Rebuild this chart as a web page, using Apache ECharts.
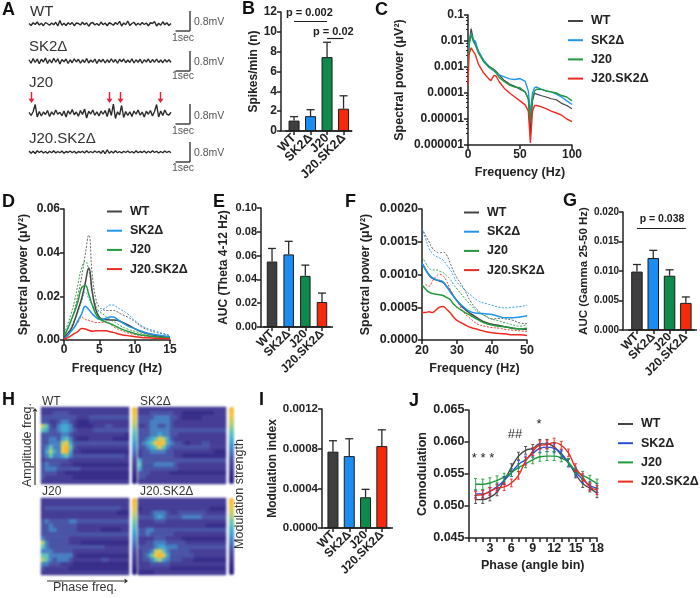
<!DOCTYPE html>
<html>
<head>
<meta charset="utf-8">
<style>
html,body{margin:0;padding:0;background:#fff}
#main{width:700px;height:598px}
/* the comodulograms are smooth in the figure, cells get softened here */
#heat{position:absolute;left:0;top:395px;width:250px;height:190px;filter:blur(1px)}
</style>
<script src="https://cdn.jsdelivr.net/npm/echarts@6/dist/echarts.min.js"></script>
</head>
<body>
<div id="main"></div>
<div id="heat"></div>
<script>
const groups = ['WT', 'SK2Δ', 'J20', 'J20.SK2Δ'];

// A: LFP traces (mV)
const traceWT = [.02,-.06,.05,-.02,.08,-.04,.03,-.07,.06,.01,-.05,.04,-.03,.07,-.08,.14,-.05,.03,-.06,.05,-.02,.06,-.07,.04,.02,-.04,.07,-.03,.05,-.09,.03,.06,-.04,.02,-.06,.08,-.03,.04,-.07,.05,.01,-.05,.06,-.02,.11,-.08,.04,-.03,.12,-.06,.02,.07,-.05,.03,-.04,.06,-.02,.04,-.07,.05,.02,.1,-.08,.03,-.05,.09,-.03,.05,-.06,.02];
const traceSK2 = [.05,-.09,.1,-.06,.08,-.11,.07,-.04,.12,-.1,.06,-.08,.11,-.05,.09,-.12,.06,-.03,.08,-.1,.05,-.07,.09,-.04,.07,-.09,.05,-.06,.1,-.08,.04,-.05,.08,-.1,.06,-.04,.07,-.08,.05,-.06,.09,-.05,.06,-.09,.07,-.03,.08,-.07,.04,-.06,.09,-.08,.05,-.05,.07,-.09,.05,-.04,.08,-.07,.06,-.05,.08,-.06,.04,-.07,.06,-.04,.05,-.06];
const traceJ20 = [.03,-.1,.05,.34,-.16,.06,-.12,.04,-.06,.1,-.14,.05,-.08,.12,-.05,.03,-.11,.08,-.16,.09,-.05,.14,-.07,.04,-.13,.1,-.06,.16,-.2,.07,-.04,.12,-.09,.05,-.12,.08,-.05,.1,-.14,.18,-.1,.36,-.22,.05,-.08,.3,-.18,.06,-.1,.05,-.14,.08,-.05,.12,-.09,.04,-.16,.07,-.05,.1,-.12,.06,.34,-.16,.08,-.1,.12,-.05,-.08,.03];
const traceDKO = [.04,-.05,.03,-.06,.05,-.02,.04,-.04,.02,-.05,.03,-.03,.05,-.04,.02,-.03,.04,-.05,.02,-.02,.04,-.03,.03,-.05,.02,-.02,.03,-.04,.05,-.03,.02,-.03,.04,-.02,.03,-.05,.06,-.07,.09,-.05,.03,-.04,.05,-.03,.02,-.04,.03,-.02,.04,-.03,.02,-.04,.05,-.03,.02,-.02,.04,-.04,.03,-.03,.05,-.02,.03,-.04,.02,-.03,.04,-.02,.03,-.03];

// B, E, G, I: bars, value and top of the error bar
const spikes = [1.05, 1.5, 7.45, 2.25];
const spikesTop = [1.45, 2.15, 8.95, 3.55];
const theta = [.055, .061, .043, .021];
const thetaTop = [.066, .072, .052, .0285];
const gamma = [.0099, .0122, .0092, .0046];
const gammaTop = [.0111, .0135, .0102, .0056];
const modIndex = [.00077, .000725, .00031, .000826];
const modIndexTop = [.00088, .0009, .00039, .00099];

// C: full spectrum
const freqC = [0,1,3,5,7,10,15,20,22,25,27,30,35,40,45,50,55,58,60,62,64,66,70,75,80,85,90,95,100];
const fullWT = [.001,.008,.03,.012,.008,.004,.0018,.0011,.00095,.0008,.00068,.0005,.0003,.00022,.00018,.00014,.00011,.00006,.000003,.00005,.0001,.00009,.00008,.00007,.00006,.000055,.00004,.000033,.000025];
const fullSK2 = [.001,.008,.02,.011,.01,.004,.0018,.001,.00085,.0007,.0006,.0005,.00042,.00035,.00033,.00036,.00028,.00012,.000015,.0001,.00016,.00017,.00014,.00012,.00011,.00009,.00007,.00005,.000036];
const fullJ20 = [.001,.007,.018,.01,.007,.0035,.0016,.001,.0009,.0008,.0006,.0004,.00027,.0002,.00017,.00016,.00011,.00006,.000008,.00006,.00012,.00014,.00014,.00012,.00011,.0001,.00008,.00007,.00005];
const fullDKO = [.0002,.003,.0055,.004,.003,.0013,.0006,.00035,.0003,.00048,.00045,.00027,.00015,.0001,.00007,.00005,.000035,.00002,.0000012,.00002,.000033,.000033,.00003,.000025,.00002,.000017,.000014,.00001,.000008];

// D: theta range, mean (solid) and upper SEM (dashed)
const freqD = [0,.5,1,1.5,2,2.5,3,3.5,4,4.5,5,5.5,6,6.5,7,7.5,8,9,10,11,12,13,14,15];
const lowWT = [.001,.003,.005,.009,.014,.019,.026,.033,.022,.014,.0105,.0095,.0093,.0092,.0092,.009,.0085,.007,.0052,.0037,.0028,.002,.0015,.0012];
const lowWTup = [.002,.005,.009,.014,.021,.029,.039,.048,.03,.019,.015,.014,.0135,.0135,.0135,.013,.012,.0105,.0085,.006,.0045,.0035,.0028,.002];
const lowSK2 = [.0005,.002,.004,.006,.009,.012,.0155,.014,.012,.0105,.0095,.0095,.01,.0105,.0105,.0095,.0085,.0065,.0052,.004,.003,.0024,.002,.0015];
const lowSK2up = [.001,.003,.006,.009,.013,.018,.022,.019,.016,.014,.013,.014,.015,.016,.016,.015,.014,.012,.009,.0065,.005,.004,.003,.002];
const lowJ20 = [.002,.005,.009,.013,.018,.024,.025,.021,.016,.012,.0098,.0088,.0082,.0075,.0068,.006,.0052,.004,.003,.0023,.0018,.0015,.0012,.001];
const lowJ20up = [.003,.007,.012,.018,.026,.033,.036,.032,.022,.016,.013,.012,.0105,.0095,.0085,.0075,.0065,.005,.004,.003,.0025,.002,.0017,.0013];
const lowDKO = [.0005,.001,.002,.003,.004,.0053,.005,.0045,.004,.0042,.0042,.0042,.0042,.0038,.0035,.003,.0025,.002,.0015,.0012,.001,.0008,.0007,.0006];
const lowDKOup = [.001,.002,.004,.006,.008,.0105,.0095,.009,.0085,.008,.008,.0082,.008,.0075,.006,.0052,.0045,.0033,.0025,.002,.0016,.0013,.001,.0008];

// F: gamma range
const freqF = [20,21,22,23,24,25,26,27,28,29,30,32,34,36,38,40,42,44,46,48,50];
const highWT = [.00117,.00108,.00099,.00094,.00092,.0009,.00088,.00082,.00075,.00067,.0006,.00048,.0004,.00033,.00027,.00024,.00022,.0002,.00018,.00017,.00016];
const highWTup = [.0017,.0016,.0015,.0014,.00135,.00133,.00134,.0013,.00118,.00105,.00095,.00078,.00058,.00045,.00037,.00032,.00033,.00032,.0003,.00026,.00025];
const highSK2 = [.00117,.00108,.001,.00095,.00092,.00091,.00089,.00082,.00074,.00067,.0006,.0005,.00043,.00041,.0004,.00039,.00036,.00034,.00034,.00035,.00037];
const highSK2up = [.0017,.00155,.0014,.00132,.00128,.00125,.00122,.00115,.00108,.00098,.00088,.00078,.00068,.0006,.00056,.00053,.0005,.00049,.0005,.00051,.00053];
const highJ20 = [.00084,.00078,.00073,.00071,.0007,.00069,.00068,.00065,.00062,.00055,.0005,.00043,.00037,.00031,.00026,.00023,.00021,.0002,.00018,.00017,.00018];
const highJ20up = [.00127,.00118,.0011,.00107,.00107,.00105,.00103,.00098,.00093,.00085,.00078,.00065,.00053,.00043,.00037,.00032,.00029,.00026,.00023,.00021,.00024];
const highDKO = [.00042,.00042,.00043,.00042,.00046,.0005,.00051,.00047,.00042,.00035,.0003,.00024,.00019,.00016,.00013,.00011,.0001,.00009,.00008,.00008,.00007];
const highDKOup = [null,.00085,.00082,.0009,.00097,.001,.00098,.0009,.00078,.00068,.0006,.00042,.00032,.00024,.00021,.00019,.00018,.00016,.00015,.00014,.00013];

// J: comodulation per angle bin
const bins = [1,2,3,4,5,6,7,8,9,10,11,12,13,14,15,16,17,18];
const comoWT = [.0510,.0510,.0514,.0522,.0540,.0560,.0578,.0587,.0590,.0597,.0597,.0592,.0580,.0568,.0550,.0535,.0528,.0520];
const comoSK2 = [.0519,.0519,.0523,.0530,.0540,.0552,.0565,.0572,.0582,.0590,.0592,.0590,.0582,.0567,.0553,.0542,.0532,.0528];
const comoJ20 = [.0534,.0534,.0536,.0540,.0545,.0552,.0560,.0566,.0572,.0577,.0578,.0578,.0575,.0568,.0555,.0548,.0542,.0535];
const comoDKO = [.0517,.0518,.0523,.0528,.0530,.0536,.0548,.0570,.0585,.0595,.0596,.0599,.0595,.0583,.0560,.0545,.0530,.0525];
const comoErr = [.0006,.0006,.0006,.0006,.0006,.0006,.0006,.0006,.0006,.0007,.0007,.0007,.0006,.0006,.0006,.0006,.0006,.0007];
const comoErrJ20 = [.0009,.0008,.0008,.0007,.0006,.0006,.0006,.0006,.0006,.0007,.0007,.0007,.0006,.0006,.0006,.0006,.0006,.0007];

// H: comodulograms, rows from high to low amplitude frequency, phase frequency along the row
const heatWT = [
 [2,2,2,2,2,2,2,2,2,2,2,2,2,2,2,2,2,2,2,2,2,2],
 [2,2,2,3,3,3,3,2,2,2,2,2,2,2,2,2,2,2,2,2,2,2],
 [3,3,3,3,3,3,3,3,3,2,2,2,3,3,3,3,3,3,3,3,3,3],
 [3,3,2,2,3,4,4,3,2,1,1,1,2,2,2,2,2,2,2,2,2,2],
 [7,6,3,2,4,5,5,4,2,1,1,1,1,2,2,2,3,3,2,2,2,2],
 [6,5,3,3,4,5,5,4,3,2,2,2,2,3,3,3,3,3,3,3,3,3],
 [3,3,3,3,3,4,4,3,2,2,2,2,2,2,2,2,2,2,2,2,2,1],
 [3,3,4,4,3,5,6,4,2,1,1,1,2,2,2,2,2,2,1,1,1,1],
 [3,3,4,4,4,7,8,5,3,3,3,3,3,3,3,3,3,3,3,3,3,3],
 [3,4,6,4,4,8,9,6,3,2,2,2,2,2,2,2,2,2,2,2,2,2],
 [3,5,7,5,4,8,9,5,2,2,1,1,1,1,1,1,1,1,1,1,1,1],
 [3,4,6,4,4,5,6,4,3,3,3,3,3,3,3,3,3,3,3,3,3,2],
 [2,3,3,3,3,3,3,2,2,2,2,2,2,2,2,2,2,2,2,2,2,2],
 [3,4,3,3,3,2,2,2,1,1,1,1,1,1,1,1,1,1,1,1,1,1],
 [3,4,4,4,3,3,3,3,3,3,2,2,2,2,2,2,2,2,2,2,2,2],
 [3,3,3,3,2,2,1,1,1,1,1,1,1,1,1,1,1,1,1,1,1,1],
 [3,2,2,2,2,2,2,2,1,1,1,1,1,1,1,1,1,1,1,1,1,1],
 [2,2,2,2,2,2,2,2,2,2,2,2,2,2,2,2,2,2,2,2,2,2]
];
const heatSK2 = [
 [2,2,2,2,2,2,2,2,2,2,2,2,2,2,2,2,2,2,2,2,2,2],
 [2,2,2,3,3,3,3,3,3,2,2,1,1,1,1,1,1,1,1,2,2,2],
 [3,3,3,3,4,4,4,4,3,3,2,1,1,1,1,1,2,2,2,2,2,2],
 [3,3,3,4,4,4,4,4,3,2,2,2,2,2,2,2,2,2,2,2,2,2],
 [2,2,3,4,4,3,3,4,3,2,2,2,2,2,2,2,2,2,2,2,2,2],
 [3,3,3,4,4,4,4,4,3,3,3,3,3,3,3,3,3,3,3,3,3,3],
 [3,3,3,4,4,5,4,4,3,3,2,2,2,2,2,2,2,2,2,2,2,2],
 [3,3,4,5,6,8,7,5,3,2,2,2,2,2,2,2,2,2,2,2,2,2],
 [3,4,5,6,8,9,8,5,4,3,3,2,1,2,2,2,3,3,2,2,2,2],
 [3,3,4,5,6,8,6,4,3,3,3,3,3,3,3,3,3,3,2,2,2,2],
 [2,3,3,4,4,4,4,3,3,2,2,2,2,2,2,2,2,2,2,1,1,1],
 [2,3,3,3,3,3,3,3,3,2,2,1,1,1,1,1,1,1,1,1,1,1],
 [5,3,3,3,3,3,3,3,3,3,3,3,3,3,3,3,3,3,3,3,3,3],
 [6,3,3,3,4,4,4,4,4,3,2,2,2,2,2,2,2,2,2,2,2,2],
 [5,3,3,3,3,3,3,3,3,3,2,2,2,2,2,2,2,2,2,2,2,2],
 [3,3,3,2,2,2,2,2,1,1,1,1,1,1,1,1,1,1,1,1,1,1],
 [3,3,2,2,2,2,2,2,2,2,2,2,2,2,2,2,2,2,2,2,2,2],
 [2,2,2,2,2,2,2,2,2,2,2,2,2,2,2,2,2,2,2,2,2,2]
];
const heatJ20 = [
 [2,2,2,2,2,2,2,2,2,2,2,2,2,2,2,2,2,2,2,2,2,2],
 [2,2,2,2,2,2,2,2,2,2,2,2,2,2,2,2,2,2,2,2,2,2],
 [2,3,3,3,3,3,3,3,3,3,3,3,3,3,3,3,3,3,3,3,2,2],
 [2,2,2,2,2,2,2,2,2,2,2,2,2,2,2,2,2,2,2,1,1,1],
 [2,2,2,2,2,2,2,2,2,2,2,2,2,2,2,2,2,2,2,2,2,2],
 [3,4,3,3,3,3,3,4,4,3,3,3,3,3,3,3,3,3,3,3,3,3],
 [3,3,4,3,3,3,3,3,3,2,2,2,2,2,2,2,2,2,2,2,2,2],
 [3,3,4,4,3,3,3,3,3,2,2,2,2,2,2,1,1,1,1,1,2,2],
 [3,3,3,3,3,3,3,3,3,3,3,3,3,3,3,3,3,3,3,3,3,3],
 [4,3,3,3,3,3,3,2,2,2,2,2,2,2,2,2,2,2,2,2,2,2],
 [7,4,3,3,3,3,3,2,2,2,1,1,1,1,1,1,1,1,1,1,1,1],
 [6,4,3,3,3,3,3,3,3,3,3,3,3,3,3,3,2,2,2,2,2,2],
 [4,4,4,3,3,3,3,3,2,2,2,2,2,2,2,2,2,2,2,2,2,2],
 [6,6,4,4,4,4,4,4,2,1,1,1,1,1,1,1,1,1,1,1,1,1],
 [7,6,4,3,4,4,4,3,2,2,2,2,2,2,2,3,3,2,2,2,2,2],
 [4,4,3,3,3,2,2,2,1,1,1,1,1,1,1,1,1,1,1,1,1,1],
 [3,2,2,2,2,2,2,1,1,1,1,1,1,1,1,1,1,1,1,1,1,1],
 [2,2,2,2,2,2,2,2,2,2,2,2,2,2,2,2,2,2,2,2,2,2]
];
const heatDKO = [
 [2,2,2,2,2,2,2,2,2,2,2,2,2,2,2,2,2,2,2,2,2,2],
 [2,2,2,2,2,2,2,2,2,2,2,2,2,2,2,2,2,2,2,2,2,2],
 [1,2,2,2,2,2,2,2,2,2,2,2,2,2,2,2,2,2,1,1,1,1],
 [2,2,2,3,4,4,4,3,2,2,3,3,3,3,3,3,3,2,2,2,2,2],
 [3,3,3,3,4,5,4,3,3,3,3,4,4,4,4,4,3,3,3,3,3,3],
 [2,2,2,2,3,3,3,2,2,2,2,2,2,2,2,2,2,2,2,2,2,2],
 [2,2,2,2,2,2,2,2,2,2,2,2,2,2,2,2,2,1,1,1,1,1],
 [3,3,4,4,3,3,3,3,3,3,3,3,3,3,3,3,3,3,3,3,3,3],
 [3,3,4,3,3,3,3,3,3,2,2,2,2,2,2,2,2,2,2,2,2,2],
 [2,2,2,2,3,3,3,2,2,2,2,1,1,1,1,1,1,1,1,1,1,1],
 [2,2,3,3,4,4,4,3,3,3,3,3,2,2,2,2,2,2,2,2,2,2],
 [3,3,3,3,4,5,5,4,4,4,3,3,3,3,3,3,3,3,3,3,3,3],
 [2,3,3,4,7,8,6,4,3,3,3,3,3,2,2,2,2,2,2,2,2,2],
 [2,3,4,6,8,9,8,5,3,3,3,3,3,3,2,2,2,2,2,2,2,2],
 [2,3,3,4,6,7,5,4,3,3,3,2,2,2,1,1,1,1,1,1,1,1],
 [2,2,2,3,3,3,3,3,2,2,2,2,2,2,2,2,2,2,2,2,2,2],
 [2,2,2,2,2,2,2,2,1,1,1,1,1,1,1,1,1,1,1,1,1,1],
 [1,1,1,1,2,2,2,2,2,2,2,2,2,2,2,2,2,2,2,2,2,2]
];

const FONT = '"Liberation Sans", Arial, sans-serif';
const INK = '#222';
const LINE_COL = ['#444444', '#1e96ea', '#1f9a3c', '#ee2b20'];
const BAR_COL = ['#3f3f3f', '#1a8cf2', '#0d8a4c', '#f52a0c'];
const HEAT_COL = ['#251f7e', '#372d8a', '#453d96', '#4a54a6', '#4780c2', '#44a8d0', '#62c4b8', '#b6ce72', '#f0c848', '#f8b62f'];

const grids = [], xAxes = [], yAxes = [], series = [], legends = [], graphics = [];
const heatGrids = [], heatX = [], heatY = [], heatSeries = [], visualMaps = [];
const HEAT_TOP = 395;

function addGrid(l, t, r, b, x, y) {
  const i = grids.length;
  grids.push({ left: l, top: t, width: r - l, height: b - t });
  xAxes.push(Object.assign({ gridIndex: i }, x));
  yAxes.push(Object.assign({ gridIndex: i }, y));
  return i;
}

function axisOpt(fontSize, o) {
  return Object.assign({
    type: 'value',
    axisLine: { show: true, onZero: false, lineStyle: { color: INK, width: 1.5 } },
    axisTick: { show: true, length: 4, lineStyle: { color: INK, width: 1.5 } },
    axisLabel: { color: INK, fontFamily: FONT, fontWeight: 'bold', fontSize: fontSize, margin: 4 },
    splitLine: { show: false },
    nameLocation: 'middle',
    nameTextStyle: { color: INK, fontFamily: FONT, fontWeight: 'bold', fontSize: 12.5 }
  }, o);
}

function text(x, y, s, size, opt) {
  graphics.push({
    type: 'text', x: x, y: y, rotation: (opt && opt.rot) || 0, z: 50,
    style: {
      text: s, fill: (opt && opt.color) || INK,
      font: ((opt && opt.bold) ? 'bold ' : '') + size + 'px ' + FONT,
      textAlign: (opt && opt.align) || 'left', textVerticalAlign: 'middle',
      verticalAlign: 'middle', align: (opt && opt.align) || 'left'
    }
  });
}

function segment(x1, y1, x2, y2, color, width) {
  graphics.push({ type: 'line', z: 50, shape: { x1, y1, x2, y2 }, style: { stroke: color || INK, lineWidth: width || 1.5 } });
}

function arrowHead(x, y, dx, dy, color, size) {
  // small filled triangle with its tip on x,y
  const s = size || 4;
  graphics.push({
    type: 'polygon', z: 50,
    shape: { points: [[x, y], [x - dx * s * 1.4 - dy * s, y - dy * s * 1.4 - dx * s], [x - dx * s * 1.4 + dy * s, y - dy * s * 1.4 + dx * s]] },
    style: { fill: color }
  });
}

function errorSeries(i, points, color, cap, width) {
  return {
    type: 'custom', xAxisIndex: i, yAxisIndex: i, z: 5, silent: true, clip: false,
    data: points, encode: { x: 0, y: [1, 2] },
    renderItem: function (params, api) {
      const lo = api.coord([api.value(0), api.value(1)]);
      const hi = api.coord([api.value(0), api.value(2)]);
      const st = { stroke: color, lineWidth: width || 1.3 };
      const seg = (x1, y1, x2, y2) => ({ type: 'line', shape: { x1, y1, x2, y2 }, style: st });
      const kids = [seg(lo[0], lo[1], hi[0], hi[1]), seg(hi[0] - cap, hi[1], hi[0] + cap, hi[1])];
      if (params.seriesName === 'both') kids.push(seg(lo[0] - cap, lo[1], lo[0] + cap, lo[1]));
      return { type: 'group', children: kids };
    }
  };
}

// box: y axis x, top, first band edge, last band edge, end of x axis line, bottom
function barPanel(box, yMax, step, digits, vals, tops, yName, gap, sizes, barW, nameSize) {
  const i = addGrid(box[2], box[1], box[3], box[5],
    axisOpt(sizes[1], {
      type: 'category', data: groups,
      axisTick: { show: true, length: 4, alignWithLabel: true, lineStyle: { color: INK, width: 1.5 } },
      axisLabel: { color: INK, fontFamily: FONT, fontWeight: 'bold', fontSize: sizes[1], margin: 5, rotate: 45, interval: 0 }
    }),
    axisOpt(sizes[0], {
      min: 0, max: yMax, interval: step, name: yName, nameGap: gap, offset: box[2] - box[0],
      axisLabel: { color: INK, fontFamily: FONT, fontWeight: 'bold', fontSize: sizes[0], margin: 4, formatter: v => v.toFixed(digits) },
      nameTextStyle: { color: INK, fontFamily: FONT, fontWeight: 'bold', fontSize: nameSize }
    }));
  // the x axis line runs on past the four bands at both ends
  segment(box[0] - .75, box[5], box[4], box[5]);
  series.push({
    type: 'bar', xAxisIndex: i, yAxisIndex: i, barWidth: barW, z: 3, silent: true,
    data: vals.map((v, k) => ({ value: v, itemStyle: { color: BAR_COL[k], borderColor: '#1c1c1c', borderWidth: 1 } }))
  });
  series.push(errorSeries(i, vals.map((v, k) => [k, v, tops[k]]), '#2a2a2a', 4));
  return i;
}

function zip(xs, ys) {
  return ys.map((v, k) => [xs[k], v]).filter(p => p[1] !== null);
}

function lineSeries(i, name, xs, ys, color, width, dashed, smooth) {
  series.push({
    type: 'line', name: name, xAxisIndex: i, yAxisIndex: i, data: zip(xs, ys),
    showSymbol: false, smooth: smooth, silent: true, color: color, z: dashed ? 3 : 4,
    lineStyle: { color: color, width: width, type: dashed ? [2, 1.5] : 'solid' }
  });
}

function legendAt(left, top, gap, colors, size) {
  legends.push({
    left: left, top: top, orient: 'vertical', padding: 0, itemGap: gap, itemWidth: 15, itemHeight: 2,
    icon: 'rect', selectedMode: false,
    textStyle: { color: INK, fontFamily: FONT, fontWeight: 'bold', fontSize: size, padding: [0, 0, 0, 3] },
    data: groups.map((g, k) => ({ name: g, itemStyle: { color: colors[k] } }))
  });
}

// A traces
[[traceWT, 14], [traceSK2, 51], [traceJ20, 103], [traceDKO, 142]].forEach(function (t) {
  const i = addGrid(29, t[1], 171, t[1] + 20,
    { type: 'category', show: false, boundaryGap: false, data: t[0].map((v, k) => k) },
    { type: 'value', show: false, min: -.4, max: .4 });
  series.push({
    type: 'line', xAxisIndex: i, yAxisIndex: i, data: t[0], showSymbol: false, silent: true,
    lineStyle: { color: '#2a2a2a', width: 1.4 }
  });
});

text(30, 12, 'WT', 15, { color: '#333' });
text(29, 47, 'SK2Δ', 15, { color: '#333' });
text(29, 83, 'J20', 15, { color: '#333' });
text(29, 139, 'J20.SK2Δ', 15, { color: '#333' });
[[11, 22, 38], [51, 62, 76], [104, 116, 131], [142, 153, 168]].forEach(function (s) {
  segment(190, s[0], 190, s[0] + 20, '#444');
  segment(175.5, s[0] + 20, 190, s[0] + 20, '#444');
  text(194, s[1], '0.8mV', 10.5, { color: '#555' });
  text(183, s[2], '1sec', 10.5, { color: '#555', align: 'center' });
});
[31.5, 109.5, 120.5, 160.5].forEach(function (x) {
  segment(x, 92, x, 99, '#e8213a', 1.5);
  arrowHead(x, 103, 0, 1, '#e8213a', 3);
});

// B
barPanel([281, 12, 285.8, 351.8, 352, 131], 12, 2, 0, spikes, spikesTop, 'Spikes/min (n)', 18, [12, 12.5], 11, 12);
series[series.length - 2].markLine = {
  silent: true, symbol: 'none', label: { show: false }, lineStyle: { color: INK, width: 1.2, type: 'solid' },
  data: [[{ coord: [0, 11.1] }, { coord: [2, 11.1] }], [{ coord: [2, 9.4] }, { coord: [3, 9.4] }]]
};
text(286, 13, 'p = 0.002', 11, { bold: true });
text(313, 32, 'p = 0.02', 11, { bold: true });

// C
const cI = addGrid(468, 15, 572, 145,
  axisOpt(12, { min: 0, max: 100, interval: 50, name: 'Frequency (Hz)', nameGap: 21 }),
  axisOpt(12, {
    type: 'log', logBase: 10, min: .000001, max: .1, name: 'Spectral power (μV²)', nameGap: 62,
    axisLabel: { color: INK, fontFamily: FONT, fontWeight: 'bold', fontSize: 12, margin: 4, formatter: v => v.toFixed(Math.max(0, -Math.round(Math.log10(v)))) },
    minorTick: { show: true, length: 2, lineStyle: { color: INK, width: 1 } }
  }));
lineSeries(cI, groups[0], freqC, fullWT, LINE_COL[0], 1.2, false, false);
lineSeries(cI, groups[1], freqC, fullSK2, LINE_COL[1], 1.4, false, false);
lineSeries(cI, groups[2], freqC, fullJ20, LINE_COL[2], 1.4, false, false);
lineSeries(cI, groups[3], freqC, fullDKO, LINE_COL[3], 1.4, false, false);
legendAt(568, 14.5, 6.2, LINE_COL, 12.5);

// D
const dI = addGrid(64, 209, 170, 340,
  axisOpt(12, { min: 0, max: 15, interval: 5, name: 'Frequency (Hz)', nameGap: 22 }),
  axisOpt(12, { min: 0, max: .06, interval: .02, name: 'Spectral power (μV²)', nameGap: 34,
    axisLabel: { color: INK, fontFamily: FONT, fontWeight: 'bold', fontSize: 12, margin: 4, formatter: v => v.toFixed(2) } }));
lineSeries(dI, 'WT up', freqD, lowWTup, '#555', .9, true, true);
lineSeries(dI, 'SK2 up', freqD, lowSK2up, LINE_COL[1], .9, true, true);
lineSeries(dI, 'J20 up', freqD, lowJ20up, LINE_COL[2], .9, true, true);
lineSeries(dI, 'DKO up', freqD, lowDKOup, LINE_COL[3], .9, true, true);
lineSeries(dI, groups[0], freqD, lowWT, LINE_COL[0], 1.5, false, true);
lineSeries(dI, groups[1], freqD, lowSK2, LINE_COL[1], 1.5, false, true);
lineSeries(dI, groups[2], freqD, lowJ20, LINE_COL[2], 1.5, false, true);
lineSeries(dI, groups[3], freqD, lowDKO, LINE_COL[3], 1.5, false, true);
legendAt(107, 205, 6.2, LINE_COL, 12.5);

// E
barPanel([261, 208, 263.7, 330.3, 333, 327], .1, .02, 2, theta, thetaTop, 'AUC (Theta 4-12 Hz)', 31, [11, 12], 10.5, 12);

// F
const fI = addGrid(422, 209, 527, 340,
  axisOpt(12.5, { min: 20, max: 50, interval: 10, name: 'Frequency (Hz)', nameGap: 22 }),
  axisOpt(12.5, { min: 0, max: .002, interval: .0005, name: 'Spectral power (μV²)', nameGap: 50,
    axisLabel: { color: INK, fontFamily: FONT, fontWeight: 'bold', fontSize: 12.5, margin: 4, formatter: v => v.toFixed(4) } }));
lineSeries(fI, 'WT up', freqF, highWTup, '#555', .9, true, true);
lineSeries(fI, 'SK2 up', freqF, highSK2up, LINE_COL[1], .9, true, true);
lineSeries(fI, 'J20 up', freqF, highJ20up, LINE_COL[2], .9, true, true);
lineSeries(fI, 'DKO up', freqF, highDKOup, LINE_COL[3], .9, true, true);
lineSeries(fI, groups[0], freqF, highWT, LINE_COL[0], 1.5, false, true);
lineSeries(fI, groups[1], freqF, highSK2, LINE_COL[1], 1.5, false, true);
lineSeries(fI, groups[2], freqF, highJ20, LINE_COL[2], 1.5, false, true);
lineSeries(fI, groups[3], freqF, highDKO, LINE_COL[3], 1.5, false, true);
legendAt(464, 206, 6.2, LINE_COL, 12.5);

// G
barPanel([623, 212, 628.8, 694, 697, 330], .02, .005, 3, gamma, gammaTop, 'AUC (Gamma 25-50 Hz)', 27, [10, 12], 11.5, 11.5);
series[series.length - 2].markLine = {
  silent: true, symbol: 'none', label: { show: false }, lineStyle: { color: INK, width: 1.2, type: 'solid' },
  data: [[{ coord: [0, .0172] }, { coord: [3, .0172] }]]
};
text(662, 219, 'p = 0.038', 10.5, { bold: true, align: 'center' });

// H, in its own chart so only these cells get softened
[[heatWT, 41, 407], [heatSK2, 138, 407], [heatJ20, 41, 498], [heatDKO, 138, 498]].forEach(function (h, i) {
  const rows = h[0];
  const top = h[2] - HEAT_TOP;
  heatGrids.push({ left: h[1], top: top, width: 88, height: 77 });
  heatX.push({ gridIndex: i, type: 'category', show: false, data: rows[0].map((v, k) => k) });
  heatY.push({ gridIndex: i, type: 'category', show: false, inverse: true, data: rows.map((v, k) => k) });
  const cells = [];
  rows.forEach((row, r) => row.forEach((v, c) => cells.push([c, r, v])));
  heatSeries.push({ type: 'heatmap', xAxisIndex: i, yAxisIndex: i, data: cells, silent: true, progressive: 0 });
  visualMaps.push({
    type: 'continuous', seriesIndex: i, min: 0, max: 9, dimension: 2,
    left: h[1] + 91, top: top, itemWidth: 5, itemHeight: 77, padding: 0, text: ['', ''], showLabel: false,
    calculable: false, hoverLink: false, inRange: { color: HEAT_COL }
  });
});
text(42, 402, 'WT', 12, { color: '#333' });
text(140, 402, 'SK2Δ', 12, { color: '#333' });
text(42, 492, 'J20', 12, { color: '#333' });
text(140, 492, 'J20.SK2Δ', 12, { color: '#333' });
text(28, 445, 'Amplitude freq.', 12.5, { color: '#333', rot: Math.PI / 2, align: 'center' });
text(240, 494, 'Modulation strength', 12.5, { color: '#333', rot: Math.PI / 2, align: 'center' });
text(85, 588, 'Phase freq.', 12.5, { color: '#333', align: 'center' });
segment(35, 485, 35, 412, '#333', 1.2);
arrowHead(35, 408, 0, -1, '#333', 2.5);
segment(47, 581, 124, 581, '#333', 1.2);
arrowHead(128, 581, 1, 0, '#333', 2.5);

// I
barPanel([322, 409, 324.8, 390, 393, 528], .0012, .0004, 4, modIndex, modIndexTop, 'Modulation index', 37, [11.5, 12], 11, 12);

// J
const jI = addGrid(468.5, 410, 597, 538,
  axisOpt(12.5, {
    min: 0, max: 18, interval: 1, name: 'Phase (angle bin)', nameGap: 21,
    axisLabel: { color: INK, fontFamily: FONT, fontWeight: 'bold', fontSize: 12.5, margin: 4, formatter: v => (v > 0 && v % 3 === 0) ? v : '' }
  }),
  axisOpt(12.5, {
    min: .045, max: .065, interval: .005, name: 'Comodulation', nameGap: 36,
    axisLabel: { color: INK, fontFamily: FONT, fontWeight: 'bold', fontSize: 12.5, margin: 4, formatter: v => v.toFixed(3) }
  }));
const J_COL = ['#444444', '#2a50d8', '#1f9a3c', '#ee2b20'];
[comoWT, comoSK2, comoJ20, comoDKO].forEach(function (vals, k) {
  const err = k === 2 ? comoErrJ20 : comoErr;
  const es = errorSeries(jI, vals.map((v, b) => [bins[b], v - err[b], v + err[b]]), J_COL[k], 1.5, .9);
  es.name = 'both';
  series.push(es);
  lineSeries(jI, groups[k], bins, vals, J_COL[k], 1.4, false, true);
});
legendAt(618, 417.5, 6.2, J_COL, 12.5);
text(483, 458, '* * *', 13, { align: 'center' });
text(515, 434, '##', 13, { align: 'center', color: '#333' });
text(539, 424, '*', 13, { align: 'center' });

// panel letters
[['A', 2, 10], ['B', 242, 9], ['C', 375, 10], ['D', 2, 202], ['E', 213, 202], ['F', 345, 202], ['G', 563, 201], ['H', 2, 400], ['I', 259, 400], ['J', 409, 401]]
  .forEach(p => text(p[1], p[2], p[0], 18, { bold: true, color: '#111' }));

const chart = echarts.init(document.getElementById('main'));
chart.setOption({
  animation: false,
  backgroundColor: '#fff',
  grid: grids,
  xAxis: xAxes,
  yAxis: yAxes,
  legend: legends,
  series: series,
  graphic: { elements: graphics }
});

const heatChart = echarts.init(document.getElementById('heat'));
heatChart.setOption({
  animation: false,
  grid: heatGrids,
  xAxis: heatX,
  yAxis: heatY,
  visualMap: visualMaps,
  series: heatSeries
});
</script>
</body>
</html>
